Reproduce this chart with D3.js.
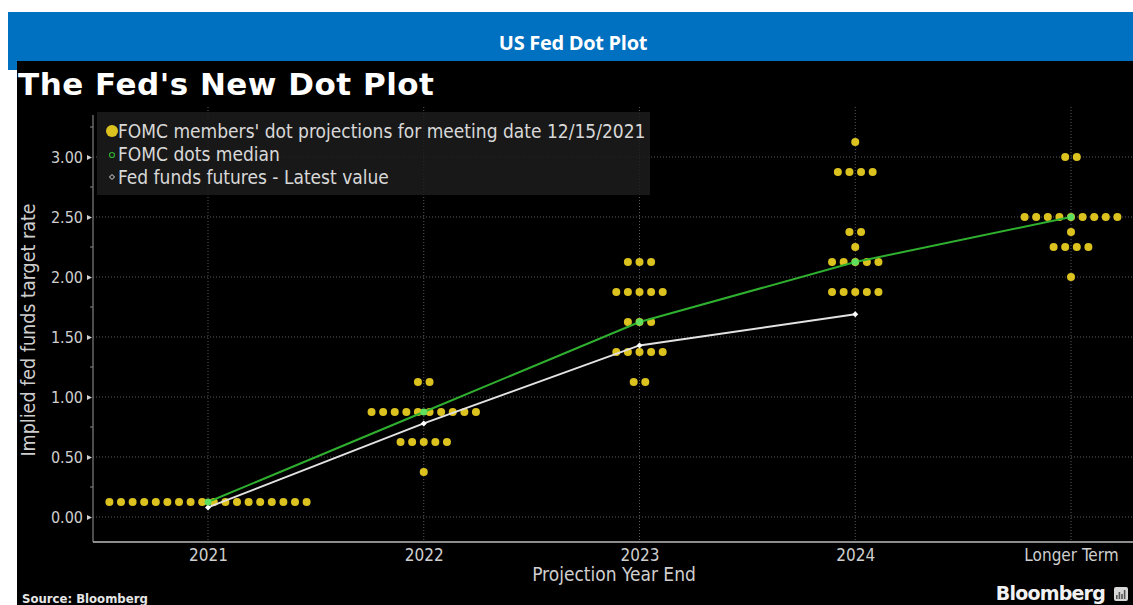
<!DOCTYPE html>
<html>
<head>
<meta charset="utf-8">
<script src="https://cdn.jsdelivr.net/npm/d3@7"></script>
<style>
    html, body { margin: 0; padding: 0; background: #fff; }
    svg { display: block; }
    .cond { font-family: 'DejaVu Sans', sans-serif; font-stretch: condensed; }
</style>
</head>
<body>
<div id="chart"></div>
<script>
    'use strict';

    // values
    const categories = ['2021', '2022', '2023', '2024', 'Longer Term'],
        dots2021 = [[0.125, 18]],
        dots2022 = [[1.125, 2], [0.875, 10], [0.625, 5], [0.375, 1]],
        dots2023 = [[2.125, 3], [1.875, 5], [1.625, 3], [1.375, 5], [1.125, 2]],
        dots2024 = [[3.125, 1], [2.875, 4], [2.375, 2], [2.25, 1], [2.125, 5], [1.875, 5]],
        dotsLonger = [[3.0, 2], [2.5, 9], [2.375, 1], [2.25, 4], [2.0, 1]],
        medians = [0.125, 0.875, 1.625, 2.125, 2.5],
        futures = [0.08, 0.78, 1.43, 1.69],
        yTicks = [0, 0.5, 1, 1.5, 2, 2.5, 3],
        yMinorTicks = [0.25, 0.75, 1.25, 1.75, 2.25, 2.75, 3.25],
        legendLabels = [
            "FOMC members' dot projections for meeting date 12/15/2021",
            'FOMC dots median',
            'Fed funds futures - Latest value'
        ];

    const width = 1133,
        height = 605,
        plotLeft = 93,
        plotTop = 107,
        plotBottom = 542,
        dotGap = 11.6,
        yellow = '#dcc21f',
        green = '#2fb02f',
        white = '#e2e2e2',
        grid = '#5a5a5a',
        axisText = '#cfcfcf';

    const svg = d3.select('#chart')
        .append('svg')
        .attr('width', width)
        .attr('height', height);

    // banner + black image
    svg.append('rect')
        .attr('x', 8).attr('y', 12)
        .attr('width', width - 8).attr('height', 58)
        .attr('fill', '#0070c0');

    svg.append('text')
        .attr('x', 573).attr('y', 50)
        .attr('text-anchor', 'middle')
        .attr('fill', '#fff')
        .style('font-family', 'Open Sans, sans-serif')
        .style('font-weight', 700)
        .style('font-size', '20px')
        .style('letter-spacing', '-0.3px')
        .text('US Fed Dot Plot');

    svg.append('rect')
        .attr('x', 17).attr('y', 61)
        .attr('width', width - 17).attr('height', height - 61)
        .attr('fill', '#000');

    svg.append('text')
        .attr('x', 18).attr('y', 95)
        .attr('fill', '#fff')
        .style('font-family', 'DejaVu Sans, sans-serif')
        .style('font-weight', 700)
        .style('font-size', '31px')
        .style('letter-spacing', '0.5px')
        .text("The Fed's New Dot Plot");

    const x = d3.scalePoint().domain(categories).range([208, 1071]),
        y = d3.scaleLinear().domain([0, 3]).range([517, 157]);

    // grid
    svg.append('g')
        .selectAll('line')
        .data(yTicks)
        .join('line')
        .attr('x1', plotLeft).attr('x2', width)
        .attr('y1', d => y(d)).attr('y2', d => y(d))
        .attr('stroke', grid)
        .attr('stroke-dasharray', '1,2');

    svg.append('g')
        .selectAll('line')
        .data(categories)
        .join('line')
        .attr('x1', d => x(d)).attr('x2', d => x(d))
        .attr('y1', plotTop).attr('y2', plotBottom)
        .attr('stroke', grid)
        .attr('stroke-dasharray', '1,2');

    // y axis
    const yAxis = svg.append('g')
        .attr('class', 'cond')
        .attr('transform', 'translate(' + plotLeft + ',0)')
        .call(d3.axisLeft(y).tickValues(yTicks).tickFormat(d3.format('.2f')).tickSize(0).tickPadding(10));

    yAxis.select('.domain').remove();
    yAxis.selectAll('text')
        .attr('fill', axisText)
        .style('font-size', '16px');

    yAxis.selectAll('.tick')
        .append('path')
        .attr('d', 'M-1,0 L-6,-2.5 L-6,2.5 Z')
        .attr('fill', axisText);

    svg.append('line')
        .attr('x1', plotLeft).attr('x2', plotLeft)
        .attr('y1', plotTop + 8).attr('y2', plotBottom)
        .attr('stroke', '#9a9a9a');

    svg.append('g')
        .selectAll('line')
        .data(yMinorTicks)
        .join('line')
        .attr('x1', plotLeft - 3).attr('x2', plotLeft)
        .attr('y1', d => y(d)).attr('y2', d => y(d))
        .attr('stroke', '#888');

    svg.append('text')
        .attr('class', 'cond')
        .attr('transform', 'translate(35,330) rotate(-90)')
        .attr('text-anchor', 'middle')
        .attr('fill', axisText)
        .style('font-size', '19.5px')
        .text('Implied fed funds target rate');

    // x axis
    const xAxis = svg.append('g')
        .attr('class', 'cond')
        .attr('transform', 'translate(0,' + plotBottom + ')')
        .call(d3.axisBottom(x).tickSize(0).tickPadding(7));

    xAxis.select('.domain')
        .attr('d', 'M' + plotLeft + ',0H' + width)
        .attr('stroke', '#bdbdbd')
        .attr('stroke-width', 1.5);
    xAxis.selectAll('text')
        .attr('fill', axisText)
        .style('font-size', '17px');

    svg.append('text')
        .attr('class', 'cond')
        .attr('x', 614).attr('y', 581)
        .attr('text-anchor', 'middle')
        .attr('fill', axisText)
        .style('font-size', '19px')
        .text('Projection Year End');

    // legend
    svg.append('rect')
        .attr('x', 97).attr('y', 112)
        .attr('width', 553).attr('height', 83)
        .attr('fill', '#1c1c1c')
        .attr('opacity', 0.85);

    const legend = svg.append('g').attr('class', 'cond');
    legendLabels.forEach((t, i) => {
        legend.append('text')
            .attr('x', 118).attr('y', 138 + i * 23)
            .attr('fill', '#d8d8d8')
            .style('font-size', '19px')
            .text(t);
    });
    legend.append('circle')
        .attr('cx', 112).attr('cy', 131).attr('r', 6)
        .attr('fill', yellow);
    legend.append('circle')
        .attr('cx', 112).attr('cy', 155).attr('r', 2.5)
        .attr('fill', 'none').attr('stroke', green).attr('stroke-width', 1.2);
    legend.append('path')
        .attr('d', 'M112,174.5 L114.5,177 L112,179.5 L109.5,177 Z')
        .attr('fill', 'none').attr('stroke', white).attr('stroke-width', 1);

    // member dots
    const dotGroups = [dots2021, dots2022, dots2023, dots2024, dotsLonger],
        dotData = [];
    dotGroups.forEach((rows, c) => {
        rows.forEach(([rate, count]) => {
            for (let i = 0; i < count; i++) {
                dotData.push({cat: categories[c], rate: rate, off: (i - (count - 1) / 2) * dotGap});
            }
        });
    });

    svg.append('g')
        .selectAll('circle')
        .data(dotData)
        .join('circle')
        .attr('cx', d => x(d.cat) + d.off)
        .attr('cy', d => y(d.rate))
        .attr('r', 4)
        .attr('fill', yellow);

    // lines
    const line = d3.line()
        .x(d => x(d.cat))
        .y(d => y(d.v));

    const futuresData = futures.map((v, i) => ({cat: categories[i], v: v})),
        medianData = medians.map((v, i) => ({cat: categories[i], v: v}));

    svg.append('path')
        .datum(futuresData)
        .attr('d', line)
        .attr('fill', 'none')
        .attr('stroke', white)
        .attr('stroke-width', 2);

    svg.append('path')
        .datum(medianData)
        .attr('d', line)
        .attr('fill', 'none')
        .attr('stroke', green)
        .attr('stroke-width', 2);

    svg.append('g')
        .selectAll('path')
        .data(futuresData)
        .join('path')
        .attr('transform', d => 'translate(' + x(d.cat) + ',' + y(d.v) + ')')
        .attr('d', 'M0,-3 L3,0 L0,3 L-3,0 Z')
        .attr('fill', '#fff');

    svg.append('g')
        .selectAll('circle')
        .data(medianData)
        .join('circle')
        .attr('cx', d => x(d.cat))
        .attr('cy', d => y(d.v))
        .attr('r', 3.5)
        .attr('fill', '#5ee05e');

    // footer
    svg.append('text')
        .attr('x', 22).attr('y', 603)
        .attr('fill', '#e6e6e6')
        .style('font-family', 'DejaVu Sans, sans-serif')
        .style('font-stretch', 'condensed')
        .style('font-weight', 700)
        .style('font-size', '13px')
        .text('Source: Bloomberg');

    svg.append('text')
        .attr('x', 1105).attr('y', 600)
        .attr('text-anchor', 'end')
        .attr('fill', '#f2f2f2')
        .style('font-family', 'DejaVu Sans, sans-serif')
        .style('font-weight', 700)
        .style('font-size', '19px')
        .style('letter-spacing', '-0.8px')
        .text('Bloomberg');

    svg.append('rect')
        .attr('x', 1114).attr('y', 587)
        .attr('width', 14).attr('height', 14)
        .attr('rx', 2)
        .attr('fill', '#d8d8d8');
    svg.append('g')
        .selectAll('rect')
        .data([4, 7, 5, 9])
        .join('rect')
        .attr('x', (d, i) => 1116 + i * 2.6)
        .attr('y', d => 599 - d)
        .attr('width', 1.6)
        .attr('height', d => d)
        .attr('fill', '#555');
</script>
</body>
</html>
